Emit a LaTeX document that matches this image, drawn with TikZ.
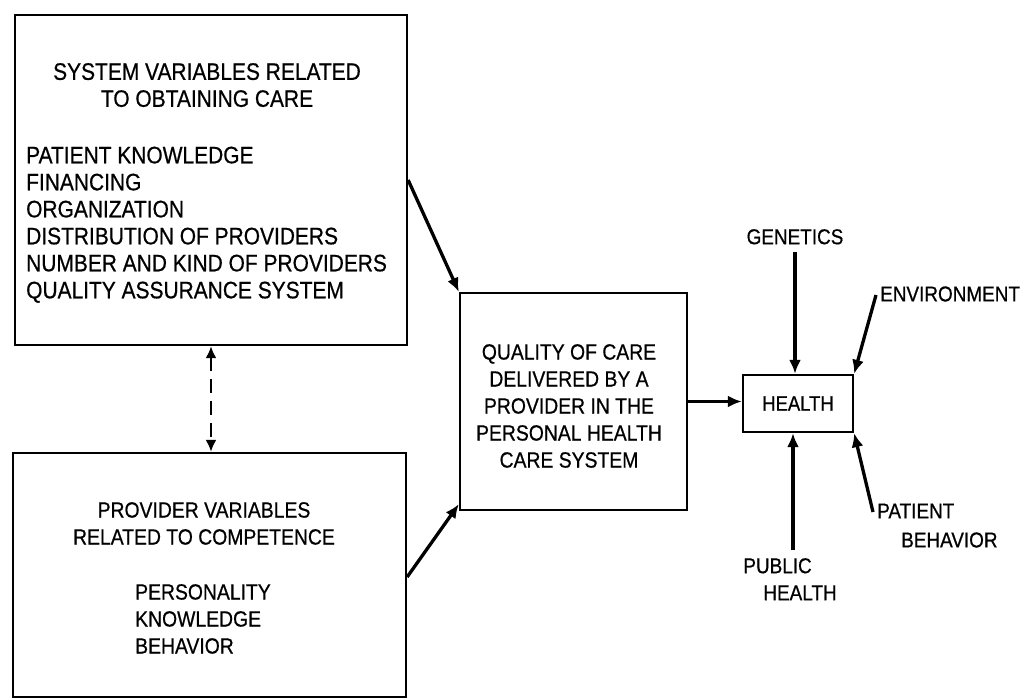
\documentclass[tikz,border=0pt]{standalone}
\usepackage{fontspec}
\setmainfont{Liberation Sans}[FakeStretch=0.88,FakeBold=0.6]
\usetikzlibrary{arrows.meta,calc}
\begin{document}
\begin{tikzpicture}[x=1pt,y=-1pt,
  box/.style={draw,line width=2.3pt,inner sep=0pt},
  txt/.style={inner sep=0pt,font=\fontsize{23.8}{27}\selectfont},
  txtb/.style={inner sep=0pt,font=\fontsize{22}{27}\selectfont},
  lbl/.style={inner sep=0pt,font=\fontsize{21.5}{27}\selectfont},
  arr/.style={line width=3.3pt,-{Latex[length=14pt,width=12pt]}},
  darr/.style={line width=2.8pt,dash pattern=on 14pt off 8pt,{Latex[length=12pt,width=11pt]}-{Latex[length=12pt,width=11pt]}}]
\useasboundingbox (0,0) rectangle (1026,700);
% boxes
\node[box,minimum width=392pt,minimum height=330pt] (sys) at (211,180) {};
\node[box,minimum width=393pt,minimum height=244pt] (prov) at (209.5,575) {};
\node[box,minimum width=227pt,minimum height=217pt] (qual) at (573.5,401.5) {};
\node[box,minimum width=110pt,minimum height=57pt,font=\fontsize{21}{24}\selectfont] (health) at (798,403.5) {HEALTH};
% texts in boxes
\node[txt,align=center,anchor=north] (systitle) at (207,63) {SYSTEM VARIABLES RELATED\\TO OBTAINING CARE};
\node[txt,align=left,anchor=north west] (syslist) at (26,146.5) {PATIENT KNOWLEDGE\\FINANCING\\ORGANIZATION\\DISTRIBUTION OF PROVIDERS\\NUMBER AND KIND OF PROVIDERS\\QUALITY ASSURANCE SYSTEM};
\node[txtb,align=center,anchor=north] (provtitle) at (204,502) {PROVIDER VARIABLES\\RELATED TO COMPETENCE};
\node[txtb,align=left,anchor=north west] (provlist) at (135,584) {PERSONALITY\\KNOWLEDGE\\BEHAVIOR};
\node[txtb,align=center,anchor=north] (qualtext) at (569,344) {QUALITY OF CARE\\DELIVERED BY A\\PROVIDER IN THE\\PERSONAL HEALTH\\CARE SYSTEM};
% outside labels
\node[lbl,anchor=north] (genetics) at (795,229) {GENETICS};
\node[lbl,anchor=west] (env) at (880,294) {ENVIRONMENT};
\node[lbl,anchor=west] (patient) at (877,511) {PATIENT};
\node[lbl,anchor=west] (behavior) at (901,540) {BEHAVIOR};
\node[lbl,align=left,anchor=north] (pubh) at (790,558) {PUBLIC\\\hspace*{20pt}HEALTH};
% connectors
\draw[darr] (sys.south -| 211,0) -- (prov.north -| 211,0);
\draw[arr] (sys.east) -- (qual.north west);
\draw[arr] ($(prov.east)+(0,2)$) -- ($(qual.south west)+(0,-7)$);
\draw[arr] (qual.east) -- (qual.east -| health.west);
\draw[arr] ($(genetics.south)+(0,7)$) -- (genetics.south |- health.north);
\draw[arr] ($(env.west)+(-4,1)$) -- (health.north east);
\draw[arr] ($(patient.west)+(-4,1)$) -- (health.south east);
\draw[arr] ($(pubh.north)+(3,-8)$) -- ($(pubh.north |- health.south)+(3,0)$);
\end{tikzpicture}
\end{document}
